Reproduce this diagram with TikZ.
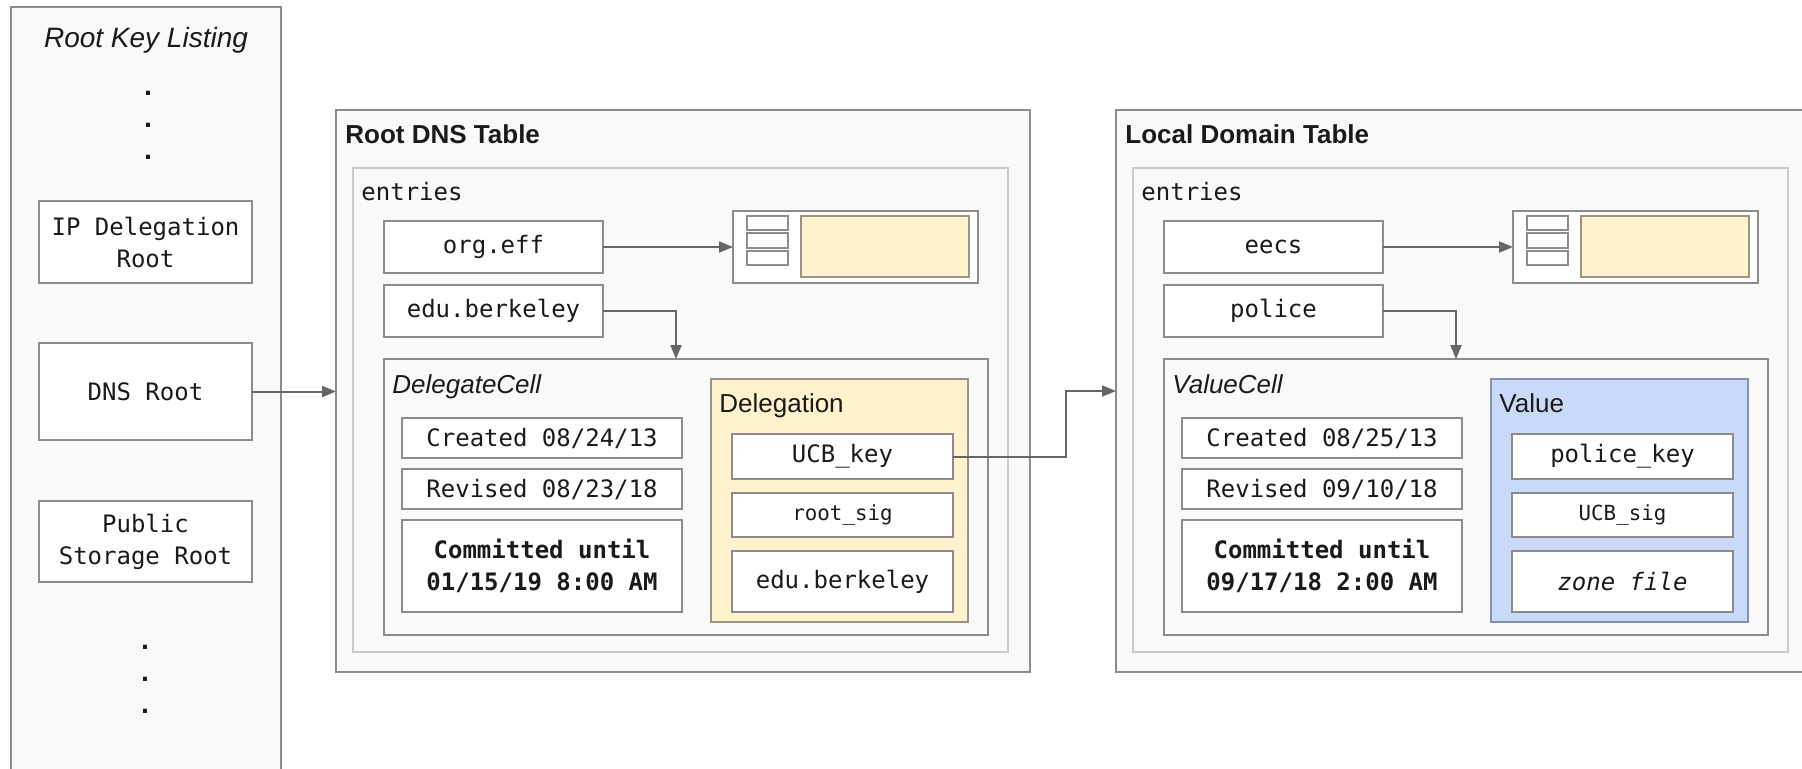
\documentclass[tikz,border=0pt]{standalone}
\usepackage{fontspec}
\setmainfont{Liberation Sans}
\setmonofont{DejaVu Sans Mono}
\usetikzlibrary{arrows.meta}
\definecolor{bord}{HTML}{8C8C8C}
\definecolor{entbord}{HTML}{CACACA}
\definecolor{contfill}{HTML}{F9F9F9}
\definecolor{yfill}{HTML}{FFF2CC}
\definecolor{ybord}{HTML}{9A9482}
\definecolor{bfill}{HTML}{C9DAF8}
\definecolor{bbord}{HTML}{8193B0}
\definecolor{arrc}{HTML}{666666}
\definecolor{txt}{HTML}{1A1A1A}
% name, x1, y1, x2, y2, style, text
\newcommand\bx[7]{%
  \pgfmathsetmacro\bxcx{(#2+#4)/2}%
  \pgfmathsetmacro\bxcy{(#3+#5)/2}%
  \pgfmathsetmacro\bxw{(#4-#2)*0.5}%
  \pgfmathsetmacro\bxh{(#5-#3)*0.5}%
  \node[inner sep=0pt, outer sep=0pt, minimum width=\bxw pt, minimum height=\bxh pt, #6] (#1) at (\bxcx,\bxcy) {#7};}
\tikzset{
  cont/.style={draw=bord, fill=contfill, line width=0.8pt},
  ent/.style={draw=entbord, fill=contfill, line width=0.8pt},
  wbox/.style={draw=bord, fill=white, line width=0.8pt, text=txt, align=center,
    font=\ttfamily\fontsize{12}{16}\selectfont},
  sbox/.style={wbox, font=\ttfamily\fontsize{10.4}{13}\selectfont},
  recbox/.style={draw=bord, fill=white, line width=0.8pt},
  slot/.style={draw=bord, fill=white, line width=0.7pt},
  ybox/.style={draw=ybord, fill=yfill, line width=0.8pt},
  bbox/.style={draw=bbord, fill=bfill, line width=0.8pt},
  lbl/.style={anchor=base west, inner sep=0pt, text=txt, font=\fontsize{13}{15}\selectfont},
  dotlbl/.style={anchor=base, inner sep=0pt, text=txt, font=\ttfamily\bfseries\fontsize{12}{16}\selectfont},
  arr/.style={draw=arrc, line width=1pt, -{Triangle[length=7pt,width=5.5pt]}},
}
\begin{document}
\begin{tikzpicture}[x=0.5pt,y=-0.5pt]
\fill[white] (0,0) rectangle (1802,768);
\clip (0,0) rectangle (1802,768);
% ---------------- left column ----------------
\bx{rkl}{11}{7}{281}{800}{cont}{}
\node[anchor=base, inner sep=0pt, text=txt, font=\itshape\fontsize{14}{16}\selectfont] (rkltitle) at (146,47) {Root Key Listing};
\node[dotlbl] (d1) at (148,95) {.};
\node[dotlbl] (d2) at (148,127) {.};
\node[dotlbl] (d3) at (148,159) {.};
\bx{ipdel}{39}{201}{252}{283}{wbox}{IP Delegation\\Root}
\bx{dnsroot}{39}{343}{252}{440}{wbox}{DNS Root}
\bx{pubstor}{39}{501}{252}{582}{wbox}{Public\\Storage Root}
\node[dotlbl] (d4) at (145,649) {.};
\node[dotlbl] (d5) at (145,681) {.};
\node[dotlbl] (d6) at (145,713) {.};
% ---------------- Root DNS Table ----------------
\bx{rootdns}{336}{110}{1030}{672}{cont}{}
\node[lbl, font=\bfseries\fontsize{13}{15}\selectfont] (rdtitle) at (345,143) {Root DNS Table};
\bx{ent1}{353}{168}{1008}{652}{ent}{}
\node[lbl, font=\ttfamily\fontsize{12}{15}\selectfont] (ent1lbl) at (361,200) {entries};
\bx{orgeff}{384}{221}{603}{273}{wbox}{org.eff}
\bx{eduberk}{384}{285}{603}{337}{wbox}{edu.berkeley}
\bx{rec1}{733}{211}{978}{283}{recbox}{}
\bx{rec1a}{747}{216}{788}{230}{slot}{}
\bx{rec1b}{747}{233}{788}{248}{slot}{}
\bx{rec1c}{747}{251}{788}{265}{slot}{}
\bx{rec1y}{801}{216}{969}{277}{ybox}{}
\bx{delcell}{384}{359}{988}{635}{cont}{}
\node[lbl, font=\itshape\fontsize{13}{15}\selectfont] (dclbl) at (392,393) {DelegateCell};
\bx{created1}{402}{418}{682}{458}{wbox}{Created 08/24/13}
\bx{revised1}{402}{469}{682}{509}{wbox}{Revised 08/23/18}
\bx{commit1}{402}{520}{682}{612}{wbox}{\bfseries Committed until\\\bfseries 01/15/19 8:00 AM}
\bx{deleg}{711}{379}{968}{622}{ybox}{}
\node[lbl] (delegl) at (719,412) {Delegation};
\bx{ucbkey}{732}{434}{953}{479}{wbox}{UCB\_key}
\bx{rootsig}{732}{493}{953}{537}{sbox}{root\_sig}
\bx{eduberk2}{732}{551}{953}{612}{wbox}{edu.berkeley}
% ---------------- Local Domain Table ----------------
\bx{localtbl}{1116}{110}{1810}{672}{cont}{}
\node[lbl, font=\bfseries\fontsize{13}{15}\selectfont] (ldtitle) at (1125,143) {Local Domain Table};
\bx{ent2}{1133}{168}{1788}{652}{ent}{}
\node[lbl, font=\ttfamily\fontsize{12}{15}\selectfont] (ent2lbl) at (1141,200) {entries};
\bx{eecs}{1164}{221}{1383}{273}{wbox}{eecs}
\bx{police}{1164}{285}{1383}{337}{wbox}{police}
\bx{rec2}{1513}{211}{1758}{283}{recbox}{}
\bx{rec2a}{1527}{216}{1568}{230}{slot}{}
\bx{rec2b}{1527}{233}{1568}{248}{slot}{}
\bx{rec2c}{1527}{251}{1568}{265}{slot}{}
\bx{rec2y}{1581}{216}{1749}{277}{ybox}{}
\bx{valcell}{1164}{359}{1768}{635}{cont}{}
\node[lbl, font=\itshape\fontsize{13}{15}\selectfont] (vclbl) at (1172,393) {ValueCell};
\bx{created2}{1182}{418}{1462}{458}{wbox}{Created 08/25/13}
\bx{revised2}{1182}{469}{1462}{509}{wbox}{Revised 09/10/18}
\bx{commit2}{1182}{520}{1462}{612}{wbox}{\bfseries Committed until\\\bfseries 09/17/18 2:00 AM}
\bx{valbox}{1491}{379}{1748}{622}{bbox}{}
\node[lbl] (valuel) at (1499,412) {Value};
\bx{polkey}{1512}{434}{1733}{479}{wbox}{police\_key}
\bx{ucbsig}{1512}{493}{1733}{537}{sbox}{UCB\_sig}
\bx{zonefile}{1512}{551}{1733}{612}{wbox}{\itshape zone file}
% ---------------- connectors ----------------
\coordinate (drop1) at (676,0);
\coordinate (drop2) at (1456,0);
\coordinate (bend) at (1066,0);
\draw[arr] (dnsroot.east) -- (dnsroot.east -| rootdns.west);
\draw[arr] (orgeff.east) -- (orgeff.east -| rec1.west);
\draw[arr] (eduberk.east) -| (drop1 |- delcell.north);
\draw[arr] (eecs.east) -- (eecs.east -| rec2.west);
\draw[arr] (police.east) -| (drop2 |- valcell.north);
\draw[arr] (ucbkey.east) -| (bend |- localtbl.west) -- (localtbl.west);
\end{tikzpicture}
\end{document}
